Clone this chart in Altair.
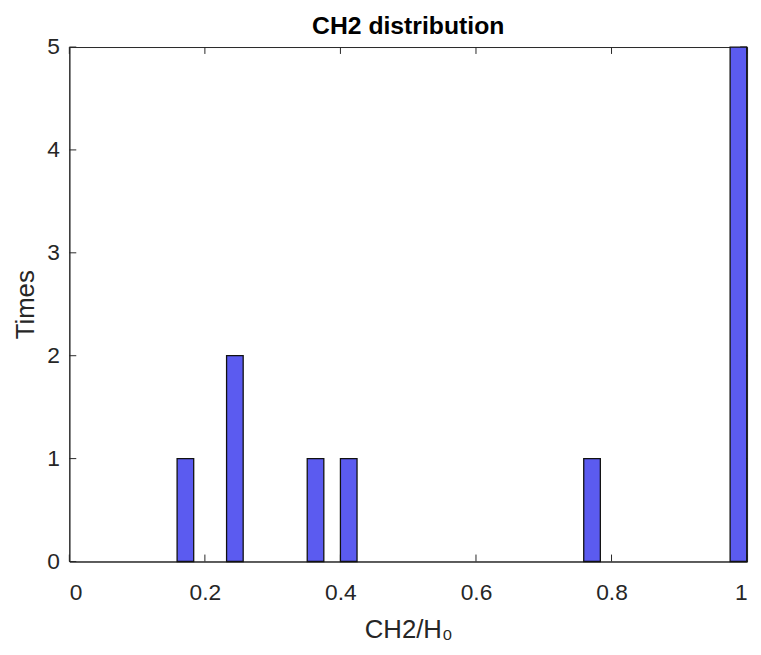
import altair as alt
import pandas as pd

# histogram bins
bin_lo = [0.159, 0.232, 0.351, 0.400, 0.759, 0.975]
bin_hi = [0.1835, 0.2565, 0.3755, 0.4245, 0.7835, 0.9995]
counts = [1, 2, 1, 1, 1, 5]

x_ticks = [0, 0.2, 0.4, 0.6, 0.8, 1.0]
y_ticks = [0, 1, 2, 3, 4, 5]

W, H = 685, 520
FONT = "Liberation Sans"
TXT = "#262626"

bars_df = pd.DataFrame({"lo": bin_lo, "hi": bin_hi, "n": counts})
xt_df = pd.DataFrame({"v": x_ticks})
yt_df = pd.DataFrame({"v": y_ticks})

xscale = alt.Scale(domain=[0, 1], nice=False, zero=False)
yscale = alt.Scale(domain=[0, 5], nice=False)

xaxis = alt.Axis(values=x_ticks, title="CH2/H₀", grid=False, tickSize=0,
                 labelPadding=20, labelFontSize=23, labelColor=TXT,
                 titleFontSize=26, titleFontWeight="normal", titleColor=TXT,
                 titlePadding=13, domainColor=TXT, labelFont=FONT, titleFont=FONT,
                 labelExpr="datum.value == 0 ? '0' : datum.value == 1 ? '1' : format(datum.value, '.1f')")
yaxis = alt.Axis(values=y_ticks, title="Times", grid=False, tickSize=0,
                 labelPadding=10, labelFontSize=23, labelColor=TXT,
                 titleFontSize=26, titleFontWeight="normal", titleColor=TXT,
                 titlePadding=8, domainColor=TXT, labelFont=FONT, titleFont=FONT,
                 format="d")

bars = alt.Chart(bars_df).mark_rect(
    color="#5b5bf0", stroke="#111111", strokeWidth=1.3
).encode(
    x=alt.X("lo:Q", scale=xscale, axis=xaxis),
    x2="hi:Q",
    y=alt.Y("n:Q", scale=yscale, axis=yaxis),
    y2=alt.datum(0),
)

tick_style = dict(color=TXT, strokeWidth=1)
xt_bottom = alt.Chart(xt_df).mark_rule(**tick_style).encode(
    x=alt.X("v:Q", scale=xscale), y=alt.value(H), y2=alt.value(H - 7))
xt_top = alt.Chart(xt_df).mark_rule(**tick_style).encode(
    x=alt.X("v:Q", scale=xscale), y=alt.value(0), y2=alt.value(7))
yt_left = alt.Chart(yt_df).mark_rule(**tick_style).encode(
    y=alt.Y("v:Q", scale=yscale), x=alt.value(0), x2=alt.value(7))
yt_right = alt.Chart(yt_df).mark_rule(**tick_style).encode(
    y=alt.Y("v:Q", scale=yscale), x=alt.value(W), x2=alt.value(W - 7))

chart = alt.layer(xt_bottom, xt_top, yt_left, yt_right, bars).properties(
    width=W, height=H,
    title=alt.TitleParams("CH2 distribution", fontSize=25, fontWeight="bold",
                          font=FONT, color="black", offset=9, dy=12, frame="group"),
    autosize=alt.AutoSizeParams(type="none"),
    padding={"left": 62, "top": 36, "right": 6, "bottom": 85},
    background="white",
).configure_view(stroke=TXT, strokeWidth=1)

chart.save("out.html", embed_options={"renderer": "svg", "actions": False})
